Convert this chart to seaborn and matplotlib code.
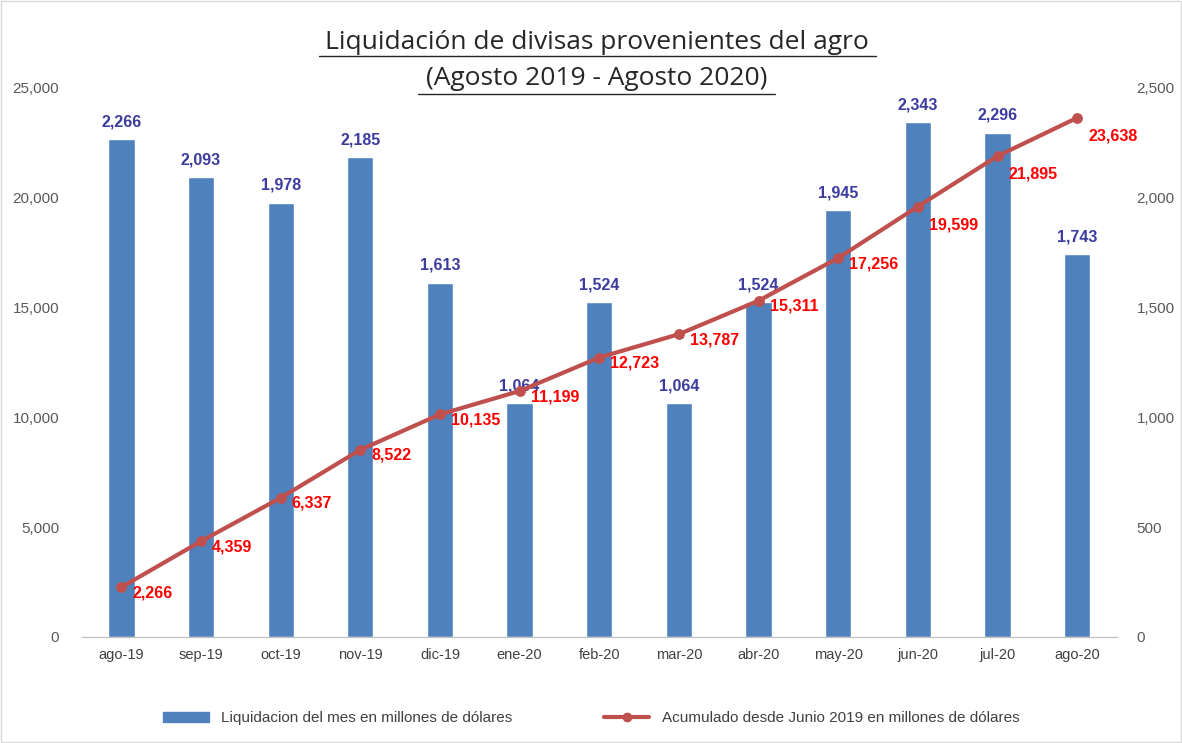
import matplotlib
matplotlib.use('Agg')
import matplotlib.pyplot as plt
import seaborn as sns
import pandas as pd
from matplotlib.patches import Patch
from matplotlib.lines import Line2D
from matplotlib.ticker import FuncFormatter

# Datos
meses = ['ago-19', 'sep-19', 'oct-19', 'nov-19', 'dic-19', 'ene-20', 'feb-20',
         'mar-20', 'abr-20', 'may-20', 'jun-20', 'jul-20', 'ago-20']
liquidacion = [2266, 2093, 1978, 2185, 1613, 1064, 1524, 1064, 1524, 1945, 2343, 2296, 1743]
acumulado = [2266, 4359, 6337, 8522, 10135, 11199, 12723, 13787, 15311, 17256, 19599, 21895, 23638]

df = pd.DataFrame({'mes': meses, 'liquidacion': liquidacion, 'acumulado': acumulado})

sns.set_style('white')
plt.rcParams['font.family'] = ['Liberation Sans', 'DejaVu Sans']

color_barra = '#4f81bd'
color_linea = '#c0504d'
color_txt = '#595959'

fig = plt.figure(figsize=(11.82, 7.43), dpi=100)
ax = fig.add_axes([0.069, 0.1427, 0.876, 0.739])
ax2 = ax.twinx()

# Barras en eje derecho
sns.barplot(data=df, x='mes', y='liquidacion', color=color_barra, width=0.33,
            saturation=1, ax=ax2)
# Linea en eje izquierdo
sns.lineplot(x=range(len(meses)), y=df['acumulado'], color=color_linea, linewidth=3,
             marker='o', markersize=7, markeredgecolor=color_linea, ax=ax)

ax.set_zorder(ax2.get_zorder() + 1)
ax.patch.set_visible(False)

ax.set_xlim(-0.5, len(meses) - 0.5)
ax.set_ylim(0, 25000)
ax2.set_ylim(0, 2500)
ax.set_yticks(range(0, 25001, 5000))
ax2.set_yticks(range(0, 2501, 500))
fmt = FuncFormatter(lambda v, p: f'{int(v):,}')
ax.yaxis.set_major_formatter(fmt)
ax2.yaxis.set_major_formatter(fmt)
ax.set_xticks(range(len(meses)))
ax.set_xticklabels(meses)

for a in (ax, ax2):
    for s in ['top', 'right', 'left']:
        a.spines[s].set_visible(False)
    a.spines['bottom'].set_color('#bfbfbf')
    a.set_xlabel('')
    a.set_ylabel('')
    a.grid(False)
ax.tick_params(axis='y', labelsize=11, colors=color_txt, length=0, pad=16)
ax2.tick_params(axis='y', labelsize=11, colors=color_txt, length=0, pad=14)
ax.tick_params(axis='x', labelsize=10.5, colors='#404040', length=0, pad=8)
ax2.tick_params(axis='x', labelsize=10.5, colors='#404040', length=0, labelbottom=False)

# Etiquetas de barras
for i, v in enumerate(liquidacion):
    ax2.annotate(f'{v:,}', (i, v), xytext=(0, 7), textcoords='offset points',
                 ha='center', va='bottom', fontsize=11.5, fontweight='bold', color='#3c3ca0')

# Etiquetas de linea (a la derecha; las ultimas bajadas para no tapar las barras)
for i, v in enumerate(acumulado):
    dy = -13 if i >= 10 else -4
    ax.annotate(f'{v:,}', (i, v), xytext=(8, dy), textcoords='offset points',
                ha='left', va='center', fontsize=11.5, fontweight='bold', color='#ff0000')

fig.text(0.505, 0.943, 'Liquidación de divisas provenientes del agro',
         ha='center', va='center', fontsize=19, color='#262626', family='Open Sans')
fig.text(0.505, 0.895, '(Agosto 2019 - Agosto 2020)',
         ha='center', va='center', fontsize=19, color='#262626', family='Open Sans')
fig.add_artist(Line2D([0.27, 0.741], [0.925, 0.925], color='#262626', lw=1))
fig.add_artist(Line2D([0.354, 0.656], [0.874, 0.874], color='#262626', lw=1))

handles = [Patch(color=color_barra, label='Liquidacion del mes en millones de dólares'),
           Line2D([0], [0], color=color_linea, lw=3, marker='o', markersize=6,
                  label='Acumulado desde Junio 2019 en millones de dólares')]
fig.legend(handles=handles, loc='center', bbox_to_anchor=(0.5, 0.033), ncol=2,
           frameon=False, fontsize=11, handlelength=3, columnspacing=6,
           labelcolor='#404040')

fig.add_artist(plt.Rectangle((0.001, 0.001), 0.998, 0.998, fill=False,
                             edgecolor='#d9d9d9', lw=1, transform=fig.transFigure))

fig.savefig('out.png', dpi=100)
